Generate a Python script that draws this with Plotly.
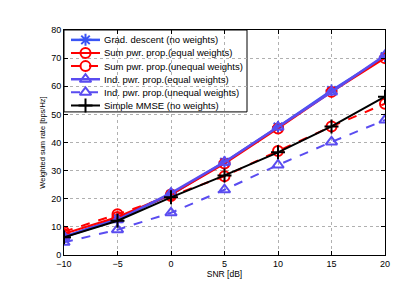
import plotly.graph_objects as go

snr = [-10, -5, 0, 5, 10, 15, 20]
grad_descent = [6.5, 13.0, 21.5, 33.0, 45.5, 58.5, 70.5]
sum_equal = [7.5, 13.5, 21.5, 32.5, 45.0, 58.0, 70.0]
sum_unequal = [8.3, 14.5, 21.0, 28.0, 37.0, 45.7, 53.8]
ind_equal = [6.5, 12.5, 22.0, 33.0, 45.5, 58.0, 71.0]
ind_unequal = [4.5, 9.0, 15.0, 23.2, 32.0, 40.2, 48.0]
mmse = [6.3, 12.2, 20.5, 28.3, 36.5, 45.7, 56.3]

names = ["Grad. descent (no weights)",
         "Sum pwr. prop.(equal weights)",
         "Sum pwr. prop.(unequal weights)",
         "Ind. pwr. prop.(equal weights)",
         "Ind. pwr. prop.(unequal weights)",
         "Simple MMSE (no weights)"]
series = [grad_descent, sum_equal, sum_unequal, ind_equal, ind_unequal, mmse]
colors = ["#3a55f5", "#ff0000", "#ff0000", "#5a4cf0", "#5a4cf0", "#000000"]
dashes = ["solid", "solid", "dash", "solid", "dash", "solid"]
symbols = ["asterisk-open", "circle-open", "circle-open", "triangle-up-open", "triangle-up-open", "cross-thin-open"]
widths = [2.5, 2, 2, 2.5, 2, 2]

W, H = 415, 281
ML, MR, MT, MB = 56, 38, 22, 31
PW, PH = W - ML - MR, H - MT - MB

fig = go.Figure()
for n, y, c, d, s, w in zip(names, series, colors, dashes, symbols, widths):
    fig.add_trace(go.Scatter(
        x=snr, y=y, name=n, mode="lines+markers", showlegend=False,
        line=dict(color=c, dash=d, width=w),
        marker=dict(symbol=s, size=10, color=c, line=dict(color=c, width=2)),
    ))

# custom compact legend (positions in plot-fraction units)
def fx(px):
    return (px - ML) / PW

def fy(py):
    return 1 - (py - MT) / PH

box_right = 239
box_bottom = 105
row0, row_step = 32, 13.3
line_x0, line_x1, mark_x, text_x = 63, 92, 77.5, 94

fig.add_shape(type="rect", xref="paper", yref="paper",
              x0=0, x1=fx(box_right), y0=fy(box_bottom), y1=1,
              line=dict(color="black", width=1), fillcolor="white", layer="between")
for i, (n, c, d, s, w) in enumerate(zip(names, colors, dashes, symbols, widths)):
    yy = fy(row0 + row_step * i)
    fig.add_trace(go.Scatter(
        x=[fx(line_x0), fx(line_x1)], y=[yy, yy], xaxis="x2", yaxis="y2", mode="lines",
        showlegend=False, hoverinfo="skip",
        line=dict(color=c, dash=d, width=w),
    ))
    fig.add_trace(go.Scatter(
        x=[fx(mark_x)], y=[yy], xaxis="x2", yaxis="y2", mode="markers",
        showlegend=False, hoverinfo="skip",
        marker=dict(symbol=s, size=10, color=c, line=dict(color=c, width=2)),
    ))
    fig.add_annotation(x=fx(text_x), y=yy, xref="paper", yref="paper",
                       text=n, showarrow=False, xanchor="left", yanchor="middle",
                       font=dict(size=9.5, color="black"))

axis_common = dict(
    showline=True, linecolor="black", linewidth=1, mirror="ticks",
    ticks="inside", ticklen=4, tickcolor="black",
    showgrid=True, gridcolor="#b0b0b0", griddash="dot", gridwidth=1,
    zeroline=False, tickfont=dict(size=9, color="black"),
)
fig.update_layout(
    xaxis=dict(range=[-10, 20], tickvals=[-10, -5, 0, 5, 10, 15, 20],
               ticktext=["\u221210", "\u22125", "0", "5", "10", "15", "20"],
               title=dict(text="SNR [dB]", font=dict(size=8.5, color="black"), standoff=2),
               **axis_common),
    yaxis=dict(range=[0, 80], dtick=10,
               title=dict(text="Weighted sum rate [bps/Hz]", font=dict(size=7.5, color="black"), standoff=4),
               **axis_common),
    xaxis2=dict(range=[0, 1], overlaying="x", visible=False, fixedrange=True),
    yaxis2=dict(range=[0, 1], overlaying="y", visible=False, fixedrange=True),
    width=W, height=H,
    margin=dict(l=ML, r=MR, t=MT, b=MB),
    paper_bgcolor="white", plot_bgcolor="white",
    font=dict(family="Liberation Sans, Arial, sans-serif", size=9, color="black"),
    showlegend=False,
)
fig.write_html("out.html")
